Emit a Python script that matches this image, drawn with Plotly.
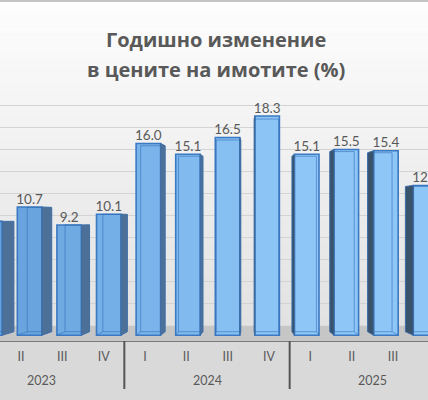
import numpy as np
import plotly.graph_objects as go

# ---------------- data ----------------
quarters = ["I", "II", "III", "IV", "I", "II", "III", "IV", "I", "II", "III", "IV"]
years = ["2023", "2024", "2025"]
year_of_bar = ["2023"] * 4 + ["2024"] * 4 + ["2025"] * 4
values = [9.5, 10.7, 9.2, 10.1, 16.0, 15.1, 16.5, 18.3, 15.1, 15.5, 15.4, 12.5]
grid_values = [2, 4, 6, 8, 10, 12, 14, 16, 18, 20]
title_lines = ["Годишно изменение", "в цените на имотите (%)"]

# ---------------- geometry helpers ----------------
W, H = 428, 400
PX = 41.333                      # pixels per category
X0 = 1 - 21 / PX                 # left range edge
X1 = 1 + (W - 21) / PX           # right range edge
AXIS_PX = 341                    # axis line (from top)
FRONT0_PX, FRONT_SCALE = 335.2, 11.98
BACK0_PX, BACK_SCALE = 325.7, 11.0
PLOT_H = AXIS_PX
y_range = [-(PLOT_H - FRONT0_PX) / FRONT_SCALE, FRONT0_PX / FRONT_SCALE]
y2_range = [-(PLOT_H - BACK0_PX) / BACK_SCALE, BACK0_PX / BACK_SCALE]

def u2px(u):
    return 21 + (np.asarray(u) - 1) * PX

def pp(px_from_top):
    return (H - px_from_top) / H

idx = np.arange(len(values))
c = 1 + (225 - 21) / PX
fx = c + (idx - c) * 0.958          # front-face centres (perspective)
fpx = u2px(fx)
w = 24.5 / PX                       # front width
sw = 0.045 * np.abs(fpx - 250) / PX  # side width
EYE, K = 9.7, 0.03

def lerp(a, b, t):
    return tuple(int(round(a[i] + (b[i] - a[i]) * t)) for i in range(3))

front_cols = []
for p in fpx:
    t = float(np.clip((p - 20) / 260, 0, 1))
    r, g, b = lerp((104, 163, 222), (142, 198, 247), t)
    front_cols.append(f"rgb({r},{g},{b})")

fig = go.Figure()

# side faces
for i, v in enumerate(values):
    b0 = K * EYE
    bt = v + K * (EYE - v)
    if fpx[i] < 250:
        e = fx[i] + w / 2
        o = e + sw[i]
        col = "#4d7099"
    else:
        e = fx[i] - w / 2
        o = e - sw[i]
        col = "#3a536d"
    fig.add_trace(go.Scatter(
        x=[e, o, o, e, e], y=[0, b0, bt, v, 0], mode="lines",
        fill="toself", fillcolor=col, line=dict(color="#3d6ea6", width=1),
        hoverinfo="skip", showlegend=False))

# front faces
fig.add_trace(go.Bar(
    x=fx, y=values, width=[w] * len(values),
    marker=dict(color=front_cols, line=dict(color="#3b79c2", width=1.6)),
    hoverinfo="skip", showlegend=False))

# back edges seen through the translucent front
bx, by = [], []
for i, v in enumerate(values):
    b0 = K * EYE
    bt = v + K * (EYE - v)
    fl, fr = fx[i] - w / 2, fx[i] + w / 2
    if fpx[i] < 250:
        xin, far, near = fl + sw[i], fr, fl
    else:
        xin, far, near = fr - sw[i], fl, fr
    bx += [xin, xin, None, xin, far, None, xin, far, None, near, xin, None]
    by += [b0, bt, None, b0, b0, None, bt, bt, None, 0, b0, None]
fig.add_trace(go.Scatter(x=bx, y=by, mode="lines",
                         line=dict(color="rgba(45,105,180,0.55)", width=1),
                         hoverinfo="skip", showlegend=False))

# value labels
fig.add_trace(go.Scatter(
    x=fx, y=values, mode="text", text=[f"{v:.1f}" for v in values],
    textposition="top center",
    textfont=dict(family="Lato", size=13.5, color="#595959"),
    hoverinfo="skip", showlegend=False))

# dummy trace on back-wall axis (gridlines)
fig.add_trace(go.Scatter(x=[None], y=[None], yaxis="y2", showlegend=False,
                         hoverinfo="skip"))

shapes = []
# background gradient
N = 40
top, bot = 2, BACK0_PX
for k in range(N):
    t = k / (N - 1)
    r, g, b = lerp((253, 253, 253), (226, 226, 226), t)
    y0 = top + (bot - top) * k / N
    y1 = top + (bot - top) * (k + 1) / N
    shapes.append(dict(type="rect", xref="paper", yref="paper", x0=0, x1=1,
                       y0=pp(y1 + 0.5), y1=pp(y0), line=dict(width=0),
                       fillcolor=f"rgb({r},{g},{b})", layer="below"))
# floor
shapes.append(dict(type="rect", xref="paper", yref="paper", x0=0, x1=1,
                   y0=pp(AXIS_PX), y1=pp(BACK0_PX), line=dict(width=0),
                   fillcolor="#c6c6c6", layer="below"))
# top border
shapes.append(dict(type="rect", xref="paper", yref="paper", x0=0, x1=1,
                   y0=pp(2), y1=1, line=dict(width=0),
                   fillcolor="#c4c4c4", layer="below"))
# year dividers
year_pos = [float(np.mean([i for i in idx if year_of_bar[i] == y])) for y in years]
for a, b in zip(year_pos[:-1], year_pos[1:]):
    xd = (a + b) / 2
    shapes.append(dict(type="line", xref="x", yref="paper", x0=xd, x1=xd,
                       y0=pp(AXIS_PX), y1=pp(389),
                       line=dict(color="#555555", width=2)))

annotations = []
for y, xp in zip(years, year_pos):
    annotations.append(dict(x=xp, y=pp(380), xref="x", yref="paper",
                            text=y, showarrow=False,
                            xanchor="center", yanchor="middle",
                            font=dict(family="Lato", size=12.5, color="#595959")))
for line, yc in zip(title_lines, [39.5, 69.5]):
    annotations.append(dict(x=215.5 / W, y=pp(yc), xref="paper", yref="paper",
                            text=f"<b>{line}</b>", showarrow=False,
                            xanchor="center", yanchor="middle",
                            font=dict(family="Open Sans", size=20, color="#595959")))

fig.update_layout(
    width=W, height=H, margin=dict(l=0, r=0, t=0, b=0),
    paper_bgcolor="#d9d9d9", plot_bgcolor="rgba(0,0,0,0)",
    barmode="overlay", showlegend=False,
    shapes=shapes, annotations=annotations,
    xaxis=dict(range=[X0, X1], tickvals=list(idx), ticktext=quarters,
               tickfont=dict(family="Lato", size=12.5, color="#595959"),
               showgrid=False, zeroline=False, showline=True,
               linecolor="#7a7a7a", linewidth=1.3,
               ticks="outside", ticklen=4, tickcolor="rgba(0,0,0,0)",
               fixedrange=True),
    yaxis=dict(domain=[pp(AXIS_PX), 1], range=y_range, showgrid=False,
               zeroline=False, showticklabels=False, fixedrange=True),
    yaxis2=dict(overlaying="y", range=y2_range, tickvals=grid_values,
                showgrid=True, gridcolor="#d3d3d3", gridwidth=1,
                zeroline=False, showticklabels=False, ticks="",
                fixedrange=True),
)

fig.write_html("out.html")
